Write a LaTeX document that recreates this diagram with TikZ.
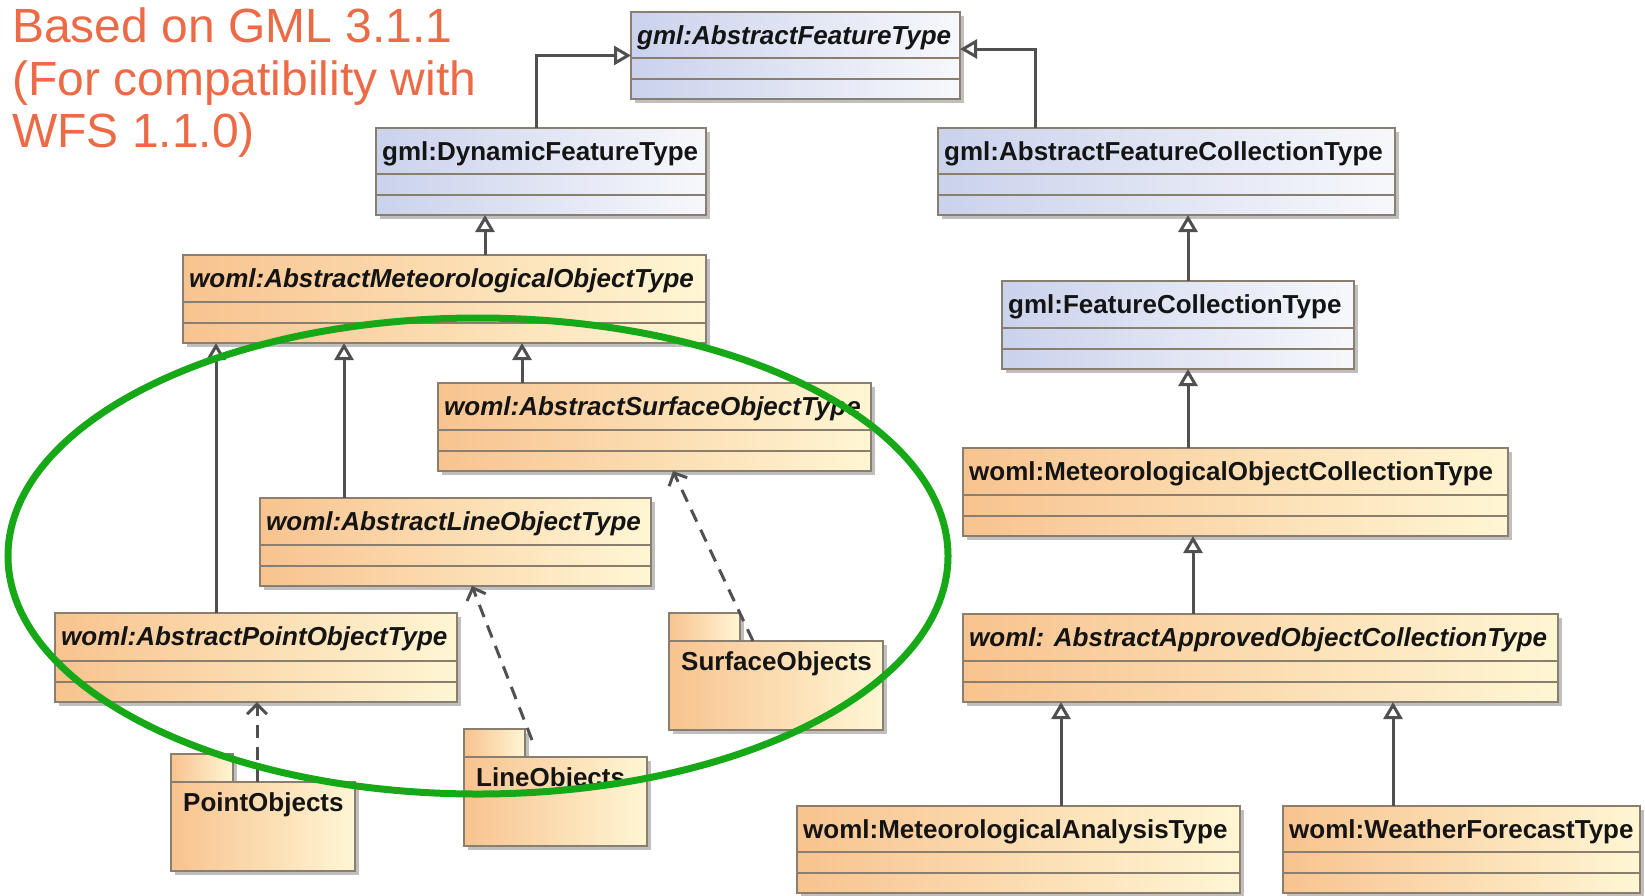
\documentclass[tikz,border=0pt]{standalone}
\usepackage{fontspec}
\setmainfont{Liberation Sans}
\usetikzlibrary{arrows.meta,shadows,calc}
\definecolor{gmlL}{HTML}{CAD2EC}
\definecolor{gmlR}{HTML}{F7F8FC}
\definecolor{womL}{HTML}{F8C38F}
\definecolor{womR}{HTML}{FFF6D4}
\definecolor{bord}{HTML}{8A7E6E}
\definecolor{conn}{HTML}{505050}
\definecolor{titlec}{HTML}{EC6A45}
\definecolor{ellc}{HTML}{16A816}
\tikzset{
 box/.style={draw=bord, line width=1.6pt, inner sep=0pt, outer sep=0pt, anchor=north west,
   drop shadow={shadow xshift=4pt, shadow yshift=-4pt, fill=black!50, opacity=.5}},
 gmlbox/.style={box, left color=gmlL, right color=gmlR},
 womlbox/.style={box, left color=womL, right color=womR},
 divider/.style={draw=bord, line width=1.3pt},
 clabel/.style={anchor=base west, inner sep=0pt, font=\fontsize{26}{30}\selectfont\bfseries, text=black!92},
 ilabel/.style={clabel, font=\fontsize{26}{30}\selectfont\bfseries\itshape},
 titletext/.style={anchor=base west, inner sep=0pt, font=\fontsize{48}{54}\selectfont, text=titlec},
 gen/.style={draw=conn, line width=3pt, -{Triangle[open, length=17pt, width=19pt, fill=white, line width=3pt]}},
 dep/.style={draw=conn, line width=3pt, dash pattern=on 13pt off 9pt, -{Straight Barb[length=10pt, width=20pt, line width=3pt]}},
 ellipsering/.style={draw=ellc, line width=7pt},
}
\newcommand\umlclass[8]{%
 \node[#6, minimum width={#4pt-#2pt}, minimum height={#5pt-#3pt}] (#1) at (#2,#3) {};
 \draw[divider] ({#2},{#5-41}) -- ({#4},{#5-41});
 \draw[divider] ({#2},{#5-20}) -- ({#4},{#5-20});
 \node[#7] (#1-t) at ({#2+6},{#3+32}) {#8};
}
\newcommand\umlpkg[8]{%
 \node[womlbox, minimum width={#4pt-#2pt}, minimum height={#5pt-#3pt}] (#1-tab) at (#2,#3) {};
 \node[womlbox, minimum width={#6pt-#2pt}, minimum height={#7pt-#5pt}] (#1) at (#2,#5) {};
 \node[clabel] (#1-t) at ({#2+12},{#5+29}) {#8};
}
\begin{document}
\begin{tikzpicture}[x=1pt,y=-1pt]
\useasboundingbox (0,0) rectangle (1645,895);
% title
\node[titletext] (title1) at (12,42) {Based on GML 3.1.1};
\node[titletext] (title2) at (12,95) {(For compatibility with};
\node[titletext] (title3) at (12,147) {WFS 1.1.0)};
% classes
\umlclass{aft}{631}{12}{960}{99}{gmlbox}{ilabel}{gml:AbstractFeatureType}
\umlclass{dyn}{376}{128}{706}{215}{gmlbox}{clabel}{gml:DynamicFeatureType}
\umlclass{afc}{938}{128}{1395}{215}{gmlbox}{clabel}{gml:AbstractFeatureCollectionType}
\umlclass{met}{183}{255}{706}{343}{womlbox}{ilabel}{woml:AbstractMeteorologicalObjectType}
\umlclass{surf}{438}{383}{871}{471}{womlbox}{ilabel}{woml:AbstractSurfaceObjectType}
\umlclass{lineT}{260}{498}{651}{586}{womlbox}{ilabel}{woml:AbstractLineObjectType}
\umlclass{pointT}{55}{613}{457}{702}{womlbox}{ilabel}{woml:AbstractPointObjectType}
\umlclass{fc}{1002}{281}{1354}{369}{gmlbox}{clabel}{gml:FeatureCollectionType}
\umlclass{moc}{963}{448}{1508}{536}{womlbox}{clabel}{woml:MeteorologicalObjectCollectionType}
\umlclass{aaoc}{963}{614}{1558}{702}{womlbox}{ilabel}{woml: AbstractApprovedObjectCollectionType}
\umlclass{ma}{797}{806}{1240}{893}{womlbox}{clabel}{woml:MeteorologicalAnalysisType}
\umlclass{wf}{1283}{806}{1640}{893}{womlbox}{clabel}{woml:WeatherForecastType}
% packages
\umlpkg{ptpkg}{171}{754}{233}{782}{355}{871}{PointObjects}
\umlpkg{lnpkg}{464}{729}{525}{757}{647}{846}{LineObjects}
\umlpkg{sfpkg}{669}{613}{740}{641}{883}{730}{SurfaceObjects}
% column coordinates
\coordinate (cA) at (536,0);
\coordinate (cB) at (1035,0);
\coordinate (cC) at (485,0);
\coordinate (cD) at (216,0);
\coordinate (cE) at (344,0);
\coordinate (cF) at (522,0);
\coordinate (cG) at (1188,0);
\coordinate (cH) at (1193,0);
\coordinate (cI) at (1061,0);
\coordinate (cJ) at (1393,0);
\coordinate (cK) at (257,0);
% generalizations
\draw[gen] (dyn.north -| cA) |- (aft.west);
\draw[gen] (afc.north -| cB) |- ([yshift=6.5pt]aft.east);
\draw[gen] (met.north -| cC) -- (dyn.south -| cC);
\draw[gen] (pointT.north -| cD) -- (met.south -| cD);
\draw[gen] (lineT.north -| cE) -- (met.south -| cE);
\draw[gen] (surf.north -| cF) -- (met.south -| cF);
\draw[gen] (fc.north -| cG) -- (afc.south -| cG);
\draw[gen] (moc.north -| cG) -- (fc.south -| cG);
\draw[gen] (aaoc.north -| cH) -- (moc.south -| cH);
\draw[gen] (ma.north -| cI) -- (aaoc.south -| cI);
\draw[gen] (wf.north -| cJ) -- (aaoc.south -| cJ);
% dependencies
\draw[dep] (ptpkg.north -| cK) -- (pointT.south -| cK);
\draw[dep] ([xshift=-23.5pt,yshift=17pt]lnpkg.north) -- ([xshift=16.5pt]lineT.south);
\draw[dep] ([xshift=-23pt]sfpkg.north) -- ([xshift=18.5pt]surf.south);
% green ellipse
\draw[ellipsering] (478,556) ellipse [x radius=470, y radius=238];
\end{tikzpicture}
\end{document}
